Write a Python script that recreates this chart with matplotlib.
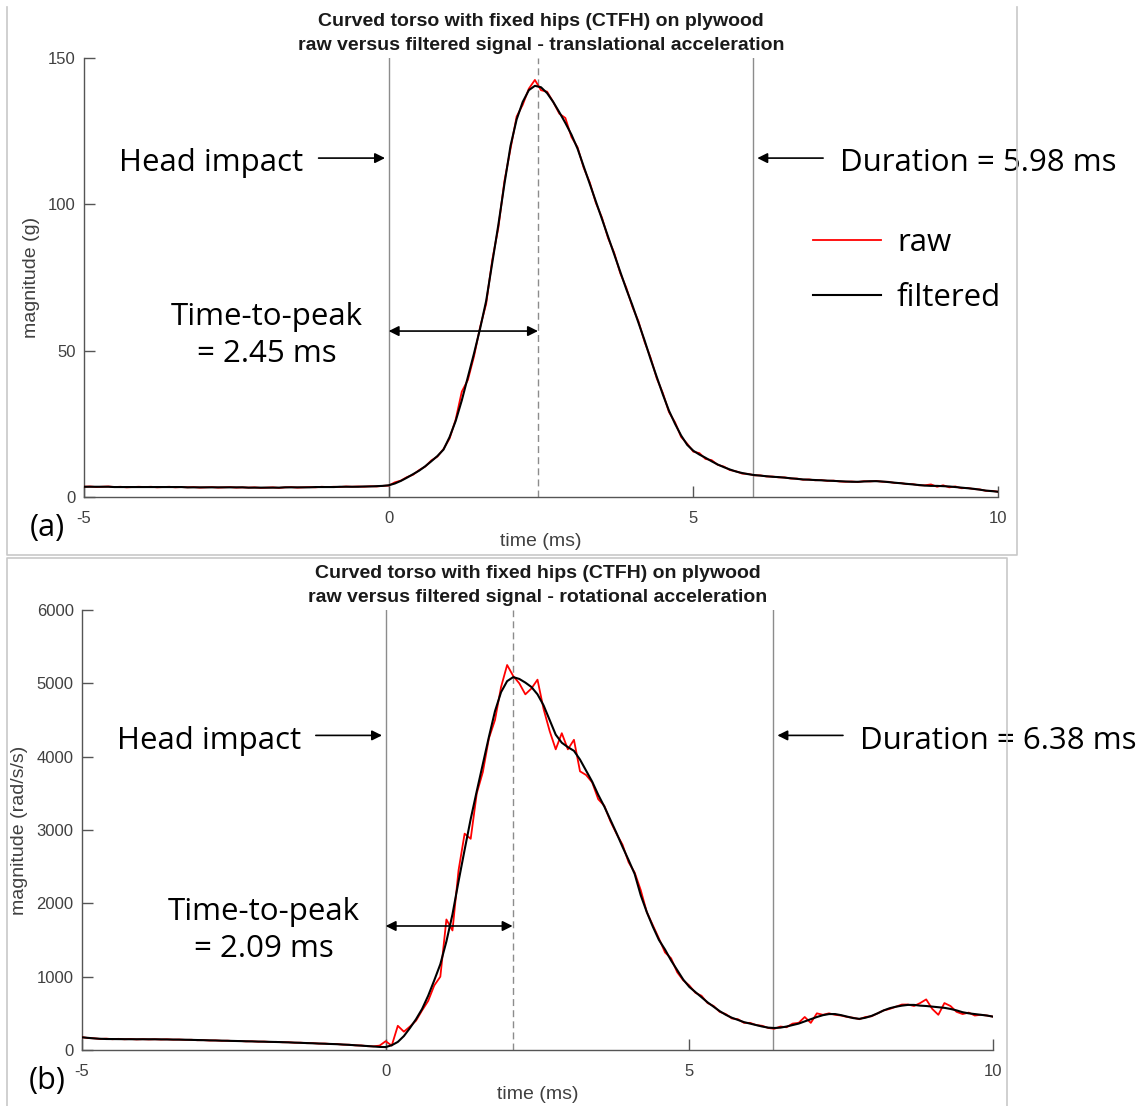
import numpy as np
import matplotlib
matplotlib.use("Agg")
import matplotlib.pyplot as plt
from matplotlib.lines import Line2D

# ---------------------------------------------------------------- data
# sample times (ms), 0.1 ms spacing
time_ms = np.round(np.arange(-5.0, 10.0001, 0.1), 1)

# translational acceleration magnitude (g)
trans_raw = [
    3.5, 3.6, 3.4, 3.5, 3.6, 3.4, 3.5, 3.3, 3.4, 3.5,
    3.4, 3.5, 3.3, 3.4, 3.5, 3.3, 3.4, 3.3, 3.4, 3.2,
    3.3, 3.4, 3.2, 3.3, 3.4, 3.2, 3.3, 3.2, 3.3, 3.1,
    3.2, 3.3, 3.1, 3.3, 3.4, 3.2, 3.3, 3.4, 3.3, 3.5,
    3.4, 3.5, 3.4, 3.6, 3.5, 3.6, 3.5, 3.7, 3.6, 3.8,
    3.9, 5.0, 5.6, 6.8, 7.6, 9.2, 10.4, 12.5, 13.8, 16.4,
    20.0, 26.5, 36.0, 40.0, 48.0, 58.0, 66.0, 81.0, 92.0, 108.0,
    119.0, 130.0, 134.0, 139.5, 142.5, 139.0, 138.5, 135.0, 131.0, 129.5,
    123.0, 119.5, 112.5, 107.5, 100.5, 95.5, 88.5, 83.5, 76.5, 71.5,
    65.0, 60.0, 53.0, 47.5, 40.5, 35.5, 29.0, 25.5, 20.5, 18.2,
    15.5, 15.0, 13.0, 12.6, 11.0, 10.4, 9.2, 8.8, 8.0, 7.9,
    7.4, 7.4, 7.0, 7.0, 6.7, 6.7, 6.3, 6.3, 5.9, 6.0,
    5.7, 5.8, 5.5, 5.6, 5.3, 5.2, 5.3, 5.1, 5.4, 5.3,
    5.5, 5.2, 5.2, 4.8, 4.8, 4.4, 4.4, 4.0, 4.0, 4.3,
    3.5, 4.0, 3.3, 3.6, 3.0, 3.1, 2.7, 2.6, 2.1, 2.1, 1.8,
]
trans_filt = [
    3.5, 3.5, 3.5, 3.5, 3.5, 3.4, 3.4, 3.4, 3.4, 3.4,
    3.4, 3.4, 3.4, 3.4, 3.4, 3.4, 3.4, 3.3, 3.3, 3.3,
    3.3, 3.3, 3.3, 3.3, 3.3, 3.3, 3.3, 3.2, 3.2, 3.2,
    3.2, 3.2, 3.2, 3.3, 3.3, 3.3, 3.3, 3.3, 3.4, 3.4,
    3.4, 3.4, 3.5, 3.5, 3.5, 3.5, 3.6, 3.6, 3.7, 3.8,
    4.0, 4.6, 5.5, 6.6, 7.8, 9.0, 10.5, 12.2, 14.0, 16.2,
    20.5, 26.0, 33.0, 41.0, 49.0, 57.5, 67.0, 80.0, 93.0, 107.0,
    120.0, 129.0, 135.0, 139.0, 140.5, 140.0, 138.0, 135.0, 131.5, 127.8,
    123.8, 119.0, 113.0, 107.0, 101.0, 95.0, 89.0, 83.0, 77.0, 71.0,
    65.5, 59.5, 53.5, 47.0, 41.0, 35.0, 29.5, 25.0, 21.0, 17.8,
    15.8, 14.5, 13.4, 12.2, 11.1, 10.2, 9.4, 8.7, 8.2, 7.8,
    7.5, 7.3, 7.1, 6.9, 6.8, 6.6, 6.4, 6.2, 6.0, 5.9,
    5.8, 5.7, 5.6, 5.5, 5.4, 5.3, 5.2, 5.2, 5.3, 5.4,
    5.4, 5.3, 5.1, 4.9, 4.7, 4.5, 4.3, 4.1, 3.9, 3.8,
    3.8, 3.7, 3.6, 3.4, 3.2, 3.0, 2.8, 2.5, 2.2, 2.0, 1.8,
]

# rotational acceleration magnitude (rad/s/s)
rot_raw = [
    175, 163, 160, 150, 155, 147, 152, 146, 150, 144,
    148, 144, 147, 143, 146, 141, 143, 138, 140, 133,
    135, 129, 131, 125, 127, 121, 123, 117, 119, 113,
    115, 109, 111, 105, 106, 99, 100, 93, 94, 87,
    88, 81, 81, 73, 72, 63, 62, 52, 50, 60,
    120, 60, 330, 250, 320, 400, 540, 670, 880, 1000,
    1780, 1630, 2450, 2950, 2880, 3500, 3790, 4250, 4500, 4950,
    5250, 5100, 5000, 4850, 4930, 5050, 4650, 4350, 4100, 4320,
    4100, 4230, 3800, 3750, 3650, 3420, 3330, 3120, 2950, 2800,
    2560, 2420, 2180, 1880, 1700, 1520, 1330, 1250, 1060, 950,
    880, 780, 740, 640, 600, 520, 490, 430, 420, 370,
    370, 340, 330, 300, 290, 320, 310, 360, 370, 450,
    370, 500, 480, 500, 480, 470, 450, 440, 420, 450,
    460, 500, 540, 560, 590, 620, 620, 600, 640, 690,
    560, 480, 640, 600, 520, 490, 510, 470, 480, 470, 455,
]
rot_filt = [
    173, 165, 158, 153, 150, 149, 148, 148, 147, 147,
    146, 146, 146, 145, 145, 144, 142, 140, 138, 135,
    133, 131, 129, 127, 125, 123, 121, 119, 117, 115,
    113, 111, 109, 107, 104, 101, 98, 95, 92, 89,
    86, 83, 79, 75, 70, 65, 60, 54, 48, 42,
    40, 65, 110, 190, 300, 420, 560, 740, 950, 1170,
    1480, 1850, 2300, 2730, 3150, 3530, 3900, 4270, 4620, 4880,
    5030, 5085, 5060, 5010, 4950, 4850, 4700, 4500, 4300, 4190,
    4130, 4080, 3960, 3810, 3660, 3480, 3320, 3140, 2960, 2770,
    2590, 2400, 2110, 1880, 1680, 1500, 1370, 1220, 1090, 960,
    860, 790, 720, 650, 590, 530, 480, 440, 410, 380,
    360, 340, 320, 305, 300, 305, 320, 340, 360, 390,
    420, 450, 475, 490, 490, 475, 455, 435, 425, 440,
    465, 500, 540, 570, 590, 605, 615, 615, 605, 600,
    592, 585, 575, 560, 540, 515, 500, 490, 480, 470, 455,
]

x_ticks = [-5, 0, 5, 10]
trans_yticks = [0, 50, 100, 150]
rot_yticks = [0, 1000, 2000, 3000, 4000, 5000, 6000]

trans_time_to_peak = 2.45
trans_duration = 5.98
rot_time_to_peak = 2.09
rot_duration = 6.38

# ---------------------------------------------------------------- styling
TICK_FONT = "Liberation Sans"
NOTE_FONT = "Open Sans"
NOTE_SIZE = 22.5
GREY = "#404040"
LINE_GREY = "#8c8c8c"

W, H = 1143, 1106
fig = plt.figure(figsize=(W / 100, H / 100), dpi=100)


def px_axes(left, top, right, bottom):
    return fig.add_axes([left / W, 1 - bottom / H, (right - left) / W, (bottom - top) / H])


def draw_panel(ax, raw, filt, ymax, yticks, ylabel, subtitle, ttp, dur,
               arrow_y, note_y, ttp_y, ttp_text_y, show_legend):
    ax.plot(time_ms, raw, color="#ff0000", lw=1.3, label="raw", zorder=3)
    ax.plot(time_ms, filt, color="black", lw=1.5, label="filtered", zorder=4)

    ax.set_xlim(-5, 10)
    ax.set_ylim(0, ymax)
    ax.set_xticks(x_ticks)
    ax.set_xticklabels([str(v) for v in x_ticks])
    ax.set_yticks(yticks)
    ax.set_yticklabels([str(v) for v in yticks])
    for s in ("top", "right"):
        ax.spines[s].set_visible(False)
    for s in ("left", "bottom"):
        ax.spines[s].set_color("#555555")
        ax.spines[s].set_linewidth(1.0)
    ax.tick_params(direction="in", length=8, width=1.0, color="#555555",
                   labelcolor=GREY, labelsize=12)
    ax.tick_params(axis="x", pad=10)
    ax.tick_params(axis="y", pad=6)
    for lab in ax.get_xticklabels() + ax.get_yticklabels():
        lab.set_family(TICK_FONT)

    ax.set_xlabel("time (ms)", fontsize=14, color=GREY, family=TICK_FONT, labelpad=5)
    ax.set_ylabel(ylabel, fontsize=14, color=GREY, family=TICK_FONT, labelpad=6)
    ax.set_title("Curved torso with fixed hips (CTFH) on plywood\n"
                 "raw versus filtered signal - " + subtitle,
                 fontsize=14, fontweight="bold", family=TICK_FONT,
                 color="#1a1a1a", pad=6, linespacing=1.55)

    # event markers: impact, duration end, time to peak
    ax.axvline(0, color=LINE_GREY, lw=1.0, zorder=1)
    ax.axvline(dur, color=LINE_GREY, lw=1.0, zorder=1)
    ax.axvline(ttp, color=LINE_GREY, lw=1.0, ls=(0, (5, 3)), zorder=1)

    arrow = dict(arrowstyle="-|>", color="black", lw=1.2,
                 mutation_scale=15, shrinkA=0, shrinkB=0)
    ax.annotate("", xy=(-0.06, arrow_y), xytext=(-1.15, arrow_y), arrowprops=arrow)
    ax.annotate("", xy=(dur + 0.07, arrow_y), xytext=(dur + 1.15, arrow_y),
                arrowprops=arrow)
    ax.annotate("", xy=(ttp, ttp_y), xytext=(0.0, ttp_y),
                arrowprops=dict(arrowstyle="<|-|>", color="black", lw=1.2,
                                mutation_scale=15, shrinkA=0, shrinkB=0))

    ax.text(-1.40, note_y, "Head impact", ha="right", va="center",
            fontsize=NOTE_SIZE, family=NOTE_FONT, color="black")
    ax.text(dur + 1.43, note_y, f"Duration = {dur:.2f} ms", ha="left", va="center",
            fontsize=NOTE_SIZE, family=NOTE_FONT, color="black", clip_on=False)
    ax.text(-2.0, ttp_text_y, f"Time-to-peak\n= {ttp:.2f} ms", ha="center",
            va="center", multialignment="center", linespacing=1.3,
            fontsize=NOTE_SIZE, family=NOTE_FONT, color="black")

    if show_legend:
        ax.legend(loc="center left", bbox_to_anchor=(0.767, 0.516), frameon=False,
                  prop={"family": NOTE_FONT, "size": NOTE_SIZE}, handlelength=2.18,
                  handletextpad=0.5, labelspacing=0.8)


ax_top = px_axes(84, 58, 998, 497)
draw_panel(ax_top, trans_raw, trans_filt, 150, trans_yticks, "magnitude (g)",
           "translational acceleration", trans_time_to_peak, trans_duration,
           arrow_y=115.8, note_y=114.0, ttp_y=56.7, ttp_text_y=55.3,
           show_legend=True)

ax_bot = px_axes(82, 610, 993, 1050)
draw_panel(ax_bot, rot_raw, rot_filt, 6000, rot_yticks, "magnitude (rad/s/s)",
           "rotational acceleration", rot_time_to_peak, rot_duration,
           arrow_y=4290, note_y=4220, ttp_y=1691, ttp_text_y=1630,
           show_legend=False)

# panel letters
fig.text(47 / W, 1 - 528 / H, "(a)", ha="center", va="center", fontsize=22,
         family=NOTE_FONT)
fig.text(47 / W, 1 - 1081 / H, "(b)", ha="center", va="center", fontsize=22,
         family=NOTE_FONT)

# thin frames around each panel
frame = dict(color="#c8c8c8", lw=1.2, transform=fig.transFigure)
for xs, ys in [((7, 7, 1017, 1017), (7, 555, 555, 7)),
               ((7, 7, 1007, 1007), (1106, 558, 558, 1106))]:
    fig.add_artist(Line2D([x / W for x in xs], [1 - y / H for y in ys], **frame))

fig.savefig("out.png", dpi=100)
